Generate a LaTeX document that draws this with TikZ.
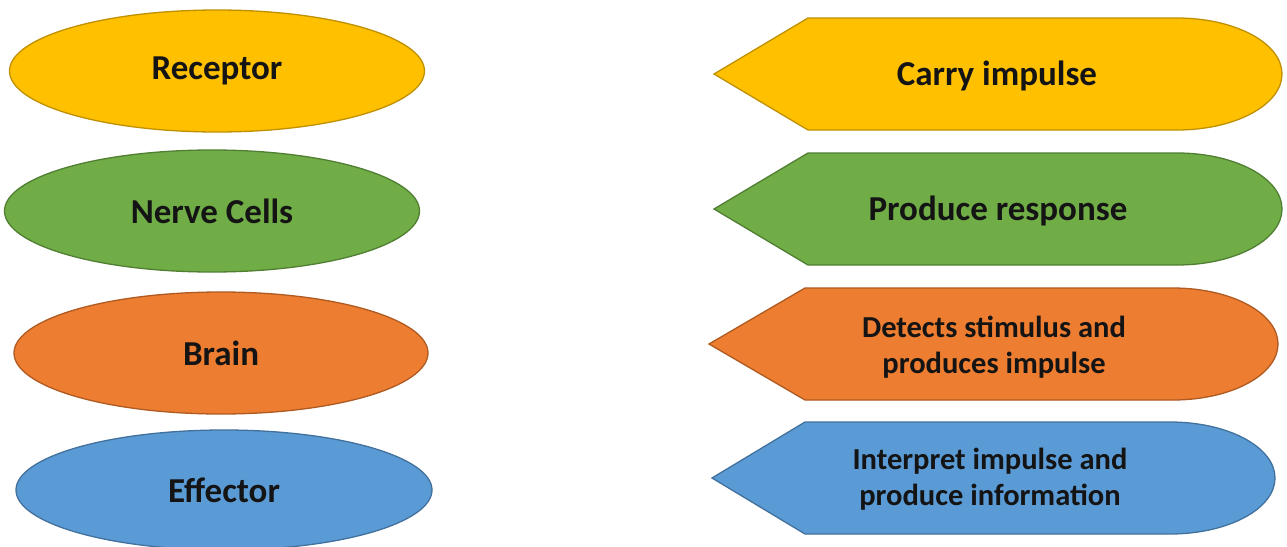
\documentclass[tikz,border=0pt]{standalone}
\usepackage{fontspec}
\setmainfont{Carlito}
\usetikzlibrary{shapes.geometric}
\definecolor{cYel}{HTML}{FFC000}
\definecolor{cYelD}{HTML}{BF9000}
\definecolor{cGrn}{HTML}{70AD47}
\definecolor{cGrnD}{HTML}{507E32}
\definecolor{cOrg}{HTML}{ED7D31}
\definecolor{cOrgD}{HTML}{AE5A21}
\definecolor{cBlu}{HTML}{5B9BD5}
\definecolor{cBluD}{HTML}{41719C}
\definecolor{txt}{HTML}{141414}
\tikzset{
  oval/.style={ellipse, inner sep=0pt, line width=1.3pt, minimum width=415pt, minimum height=122pt,
    font=\fontsize{35}{40}\selectfont\bfseries, text=txt},
  tag/.style={line width=1.3pt, line join=miter},
  lbl/.style={font=\fontsize{35}{40}\selectfont\bfseries, text=txt, align=center, inner sep=0pt},
  lbltwo/.style={font=\fontsize{30.5}{36}\selectfont\bfseries, text=txt, align=center, inner sep=0pt},
  yel/.style={fill=cYel, draw=cYelD},
  grn/.style={fill=cGrn, draw=cGrnD},
  org/.style={fill=cOrg, draw=cOrgD},
  blu/.style={fill=cBlu, draw=cBluD}
}
\begin{document}
\begin{tikzpicture}[x=1pt,y=-1pt]
\fill[white] (0,0) rectangle (1287,546);
\useasboundingbox (0,0) rectangle (1287,546);
% left ellipses
\node[oval, yel] (receptor) at (217,71) {Receptor};
\node[oval, grn] (nerve) at (212,211) {Nerve Cells};
\node[oval, org, minimum width=414pt] (brain) at (221,353) {Brain};
\node[oval, blu, minimum width=416pt, minimum height=120pt] (effector) at (224,490) {Effector};
% right tag shapes
\draw[tag, yel] (714,74) -- (808,18) -- (1177,18) arc[start angle=-90,end angle=90,x radius=105,y radius=56] -- (808,130) -- cycle;
\node[lbl] (carry) at (997,76) {Carry impulse};
\draw[tag, grn] (714,209) -- (808,153) -- (1177,153) arc[start angle=-90,end angle=90,x radius=105,y radius=56] -- (808,265) -- cycle;
\node[lbl] (produce) at (998,211) {Produce response};
\draw[tag, org] (709,344) -- (805,288) -- (1173,288) arc[start angle=-90,end angle=90,x radius=105,y radius=56] -- (805,400) -- cycle;
\node[lbltwo] (detects) at (994,347) {Detects stimulus and\\produces impulse};
\draw[tag, blu] (712,478) -- (805,422) -- (1170,422) arc[start angle=-90,end angle=90,x radius=105,y radius=56] -- (805,534) -- cycle;
\node[lbltwo] (interpret) at (990,479) {Interpret impulse and\\produce information};
\end{tikzpicture}
\end{document}
